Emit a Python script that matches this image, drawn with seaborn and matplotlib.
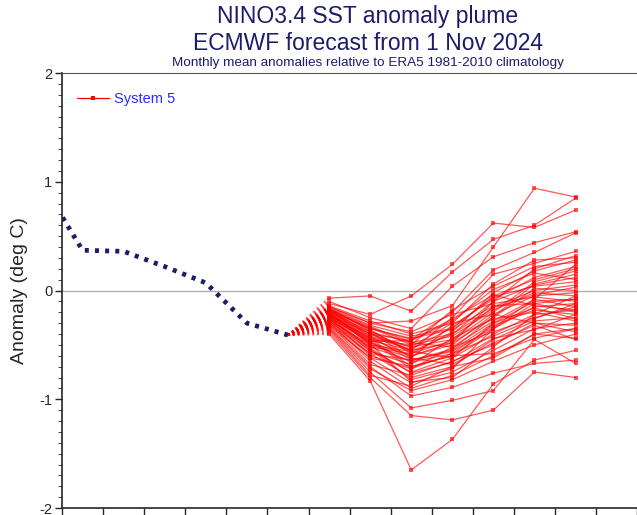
import numpy as np
import pandas as pd
import matplotlib
matplotlib.use("Agg")
import matplotlib.pyplot as plt
from matplotlib.ticker import MultipleLocator
from matplotlib.lines import Line2D
import seaborn as sns

# observed monthly anomalies, Apr..Oct 2024 (Apr is clipped by the axis)
obs_months = ["Apr", "May", "Jun", "Jul", "Aug", "Sep", "Oct"]
obs_pos = [-0.5, 0.5, 1.5, 2.5, 3.5, 4.5, 5.5]
obs_vals = [0.99, 0.37, 0.36, 0.22, 0.07, -0.30, -0.41]

# forecast months Nov 2024 .. May 2025
fc_months = ["Nov", "Dec", "Jan", "Feb", "Mar", "Apr", "May"]
fc_pos = [6.5, 7.5, 8.5, 9.5, 10.5, 11.5, 12.5]

# 51 ensemble members
members = [
    [-0.07, -0.05, -0.19, 0.17, 0.47, 0.60, 0.85],
    [-0.12, -0.22, -0.05, 0.24, 0.62, 0.58, 0.74],
    [-0.15, -0.30, -0.28, -0.14, 0.40, 0.94, 0.86],
    [-0.10, -0.25, -0.35, 0.04, 0.31, 0.44, 0.54],
    [-0.18, -0.35, -0.45, -0.20, 0.19, 0.35, 0.53],
    [-0.20, -0.40, -0.55, -0.25, 0.15, 0.25, 0.36],
    [-0.14, -0.28, -0.40, -0.30, 0.06, 0.28, 0.30],
    [-0.22, -0.45, -0.50, -0.18, 0.04, 0.22, 0.26],
    [-0.16, -0.32, -0.42, -0.35, -0.05, 0.10, 0.20],
    [-0.19, -0.38, -0.48, -0.40, -0.10, 0.05, 0.12],
    [-0.21, -0.42, -0.52, -0.45, -0.15, 0.00, 0.05],
    [-0.24, -0.48, -0.60, -0.50, -0.22, -0.05, -0.02],
    [-0.17, -0.36, -0.58, -0.38, -0.02, 0.18, 0.28],
    [-0.26, -0.52, -0.65, -0.55, -0.30, -0.10, -0.08],
    [-0.23, -0.44, -0.70, -0.60, -0.35, -0.15, -0.12],
    [-0.20, -0.50, -0.62, -0.32, -0.08, 0.12, 0.22],
    [-0.28, -0.55, -0.75, -0.62, -0.40, -0.22, -0.18],
    [-0.25, -0.46, -0.55, -0.48, -0.25, 0.02, 0.00],
    [-0.18, -0.34, -0.50, -0.42, -0.18, -0.02, -0.05],
    [-0.30, -0.58, -0.80, -0.70, -0.45, -0.28, -0.25],
    [-0.22, -0.40, -0.46, -0.28, 0.01, 0.16, 0.10],
    [-0.27, -0.60, -0.72, -0.52, -0.28, -0.08, -0.15],
    [-0.15, -0.30, -0.38, -0.22, -0.12, -0.06, -0.10],
    [-0.32, -0.62, -0.85, -0.75, -0.55, -0.35, -0.30],
    [-0.21, -0.48, -0.66, -0.58, -0.32, -0.18, -0.22],
    [-0.24, -0.52, -0.58, -0.46, -0.20, 0.08, 0.18],
    [-0.19, -0.35, -0.44, -0.36, -0.14, -0.12, -0.20],
    [-0.29, -0.65, -0.90, -0.78, -0.60, -0.40, -0.35],
    [-0.26, -0.56, -0.68, -0.44, -0.26, -0.20, -0.28],
    [-0.23, -0.43, -0.54, -0.34, -0.06, 0.04, 0.08],
    [-0.31, -0.68, -0.78, -0.65, -0.50, -0.30, -0.38],
    [-0.17, -0.33, -0.48, -0.52, -0.38, -0.25, -0.15],
    [-0.20, -0.38, -0.62, -0.68, -0.48, -0.32, -0.45],
    [-0.27, -0.50, -0.56, -0.40, -0.16, -0.04, 0.03],
    [-0.22, -0.46, -0.72, -0.58, -0.42, -0.26, -0.12],
    [-0.34, -0.72, -0.92, -0.82, -0.65, -0.50, -0.40],
    [-0.25, -0.54, -0.82, -0.72, -0.35, -0.12, -0.08],
    [-0.18, -0.40, -0.52, -0.30, -0.22, -0.30, -0.32],
    [-0.28, -0.58, -0.64, -0.54, -0.24, 0.06, 0.15],
    [-0.21, -0.44, -0.60, -0.48, -0.10, 0.20, 0.32],
    [-0.30, -0.62, -0.70, -0.60, -0.58, -0.44, -0.35],
    [-0.24, -0.47, -0.46, -0.26, -0.04, -0.14, -0.18],
    [-0.16, -0.37, -0.56, -0.62, -0.30, -0.16, -0.26],
    [-0.26, -0.53, -0.76, -0.66, -0.44, -0.36, -0.22],
    [-0.19, -0.42, -0.64, -0.56, -0.34, -0.08, 0.24],
    [-0.23, -0.49, -0.84, -0.80, -0.52, -0.22, -0.05],
    [-0.36, -0.78, -0.88, -0.70, -0.62, -0.40, -0.44],
    [-0.40, -0.83, -1.65, -1.37, -0.86, -0.64, -0.55],
    [-0.38, -0.80, -1.15, -1.19, -1.10, -0.75, -0.80],
    [-0.35, -0.75, -1.08, -1.01, -0.92, -0.45, -0.67],
    [-0.33, -0.70, -0.97, -0.89, -0.76, -0.67, -0.64],
]

sns.set_style("ticks")
plt.rcParams['font.family'] = ['Liberation Sans', 'DejaVu Sans']

navy = "#1c1c6b"

# long tables
fc = pd.DataFrame(
    [(m, p, v) for m, row in enumerate(members) for p, v in zip(fc_pos, row)],
    columns=["member", "pos", "anom"],
)
link = pd.DataFrame(
    [(m, p, v) for m, row in enumerate(members)
     for p, v in ((obs_pos[-1], obs_vals[-1]), (fc_pos[0], row[0]))],
    columns=["member", "pos", "anom"],
)
obs = pd.DataFrame({"pos": obs_pos, "anom": obs_vals})

fig = plt.figure(figsize=(6.37, 5.15), dpi=100)
ax = fig.add_axes([62 / 637, 7 / 515, 1 - 62 / 637 + 0.01, (508 - 73) / 515])

ax.axhline(0, color="#b0b0b0", lw=1, zorder=0)

# dotted connectors from last observation to first forecast month
sns.lineplot(data=link, x="pos", y="anom", units="member", estimator=None,
             color="red", lw=1.4, ls=(0, (1, 1.5)), alpha=0.7, ax=ax)

# forecast members
sns.lineplot(data=fc, x="pos", y="anom", units="member", estimator=None,
             color="red", lw=0.9, alpha=0.65, marker="s", markersize=2.5,
             markeredgewidth=0, ax=ax)

# observations
sns.lineplot(data=obs, x="pos", y="anom", color=navy, lw=3.4,
             ls=(0, (0.85, 1.3)), dash_capstyle="butt", ax=ax)

ax.set_xlim(0, 14.15)
ax.set_ylim(-2, 2)
ax.xaxis.set_major_locator(MultipleLocator(1))
ax.set_xticklabels([])
ax.yaxis.set_minor_locator(MultipleLocator(0.1))
ax.set_yticks([-2, -1, 0, 1, 2])
ax.set_yticklabels(["-2", "-1", "0", "1", "2"], fontsize=10.5)
ax.tick_params(axis="y", which="major", length=5, width=1, direction="out", pad=2)
ax.tick_params(axis="y", which="minor", length=3, width=0.6, direction="out")
ax.tick_params(axis="x", which="major", length=5, width=1, direction="out")
ax.set_xlabel("")
ax.set_ylabel("Anomaly (deg C)", fontsize=14, labelpad=8)

ax.spines["right"].set_visible(False)
ax.spines["top"].set_color("#555555")
ax.spines["left"].set_linewidth(1.2)
ax.spines["bottom"].set_linewidth(1.2)

handle = Line2D([], [], color="red", lw=0.9, marker="s", markersize=2.5,
                markeredgewidth=0)
leg = ax.legend([handle], ["System 5"], loc="upper left", frameon=False,
                fontsize=10.5, handlelength=2.2, handletextpad=0.4,
                borderaxespad=0.6, bbox_to_anchor=(0.0, 0.99))
for t in leg.get_texts():
    t.set_color("#2b2bff")

fig.text(0.577, 0.968, "NINO3.4 SST anomaly plume", ha="center", va="center",
         fontsize=16.5, color=navy)
fig.text(0.577, 0.915, "ECMWF forecast from 1 Nov 2024", ha="center", va="center",
         fontsize=16.5, color=navy)
fig.text(0.577, 0.878, "Monthly mean anomalies relative to ERA5 1981-2010 climatology",
         ha="center", va="center", fontsize=9.7, color=navy)

fig.savefig("out.png", dpi=100)
